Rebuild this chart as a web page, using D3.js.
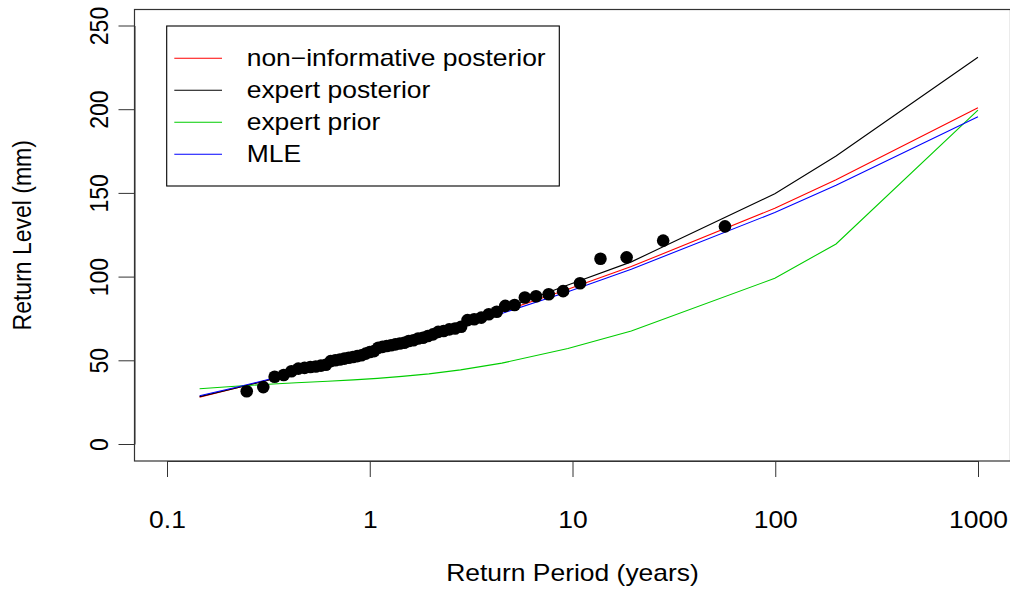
<!DOCTYPE html>
<html>
<head>
<meta charset="utf-8">
<script src="https://cdn.jsdelivr.net/npm/d3@7"></script>
<style>
  html, body { margin: 0; padding: 0; background: #ffffff; }
  svg { display: block; }
  text { font-family: "Liberation Sans", Arial, Helvetica, sans-serif; fill: #000; }
</style>
</head>
<body>
<svg id="chart" width="1010" height="591"></svg>
<script>
// Return periods (years) at which the fitted return-level curves are evaluated
const curvePeriods = [0.1448, 0.2171, 0.3338, 0.4343, 0.6213, 0.8306, 1.0913, 1.4427,
                      1.9576, 2.8037, 4.4814, 9.4912, 19.496, 99.499, 199.5, 999.5];

// Return levels (mm) for each fit
const nonInformativePosterior = [28.0, 33.3, 39.0, 42.6, 47.8, 52.0, 56.0, 60.3,
                                 65.0, 71.0, 79.0, 92.5, 106.0, 140.8, 157.8, 200.8];
const expertPosterior = [28.3, 33.3, 38.8, 42.4, 47.4, 51.8, 56.0, 60.4,
                         65.4, 71.6, 80.2, 95.0, 108.8, 149.5, 172.0, 231.0];
const expertPrior = [33.0, 34.5, 35.8, 36.6, 37.5, 38.3, 39.2, 40.4,
                     41.9, 44.3, 48.3, 57.0, 67.5, 99.0, 119.5, 199.5];
const mle = [28.8, 33.7, 39.3, 42.8, 47.7, 51.8, 55.8, 59.9,
             64.6, 70.3, 78.0, 91.0, 104.4, 138.3, 154.6, 195.5];

// Observed annual maxima: empirical return period (years) and level (mm)
const obsPeriods = [0.2473, 0.2985, 0.3396, 0.3764, 0.4109, 0.4442, 0.4769, 0.5093,
                    0.5418, 0.5746, 0.6078, 0.6418, 0.6765, 0.7122, 0.7491, 0.7871,
                    0.8266, 0.8675, 0.9102, 0.9548, 1.0015, 1.0504, 1.1020, 1.1560,
                    1.2130, 1.2740, 1.3380, 1.4070, 1.4800, 1.5580, 1.6420, 1.7320,
                    1.8300, 1.9350, 2.0500, 2.1760, 2.3140, 2.4660, 2.6350, 2.8230,
                    3.0350, 3.2740, 3.5470, 3.8630, 4.2300, 4.6600, 5.1800, 5.8200,
                    6.6100, 7.6300, 8.9900, 10.890, 13.740, 18.490, 28.000, 56.500];
const obsLevels = [31.5, 34.0, 40.2, 41.2, 43.5, 45.0, 45.5, 46.0,
                   46.3, 46.8, 47.3, 49.5, 50.0, 50.5, 51.0, 51.5,
                   52.0, 52.5, 53.0, 54.0, 55.0, 55.5, 57.5, 58.0,
                   58.5, 59.0, 59.5, 60.0, 60.5, 61.5, 62.0, 63.0,
                   63.5, 64.5, 65.5, 67.0, 67.5, 68.5, 69.0, 70.0,
                   74.0, 74.5, 75.5, 77.5, 79.0, 82.5, 83.0, 87.5,
                   88.3, 89.5, 91.3, 96.0, 110.7, 111.5, 121.5, 130.0];

const xTicks = [0.1, 1, 10, 100, 1000];
const xTickLabels = ["0.1", "1", "10", "100", "1000"];
const yTicks = [0, 50, 100, 150, 200, 250];

const seriesNames = ["non\u2212informative posterior", "expert posterior", "expert prior", "MLE"];
const seriesColors = ["#FF0000", "#000000", "#00CD00", "#0000FF"];
const seriesValues = [nonInformativePosterior, expertPosterior, expertPrior, mle];

// Plot region
const box = { left: 134.5, right: 1010.5, top: 9.5, bottom: 461 };
const fontSize = 23;
const stretch = 1.15;   // horizontal glyph stretch

const svg = d3.select("#chart");

const x = d3.scaleLog().domain([0.1, 1000]).range([167, 978]);
const y = d3.scaleLinear().domain([0, 250]).range([444, 25.5]);

// Curves
const line = d3.line()
  .x(d => x(d[0]))
  .y(d => y(d[1]));

seriesValues.forEach((vals, k) => {
  svg.append("path")
    .datum(curvePeriods.map((p, i) => [p, vals[i]]))
    .attr("d", line)
    .attr("fill", "none")
    .attr("stroke", seriesColors[k])
    .attr("stroke-width", 1.1);
});

// Observations
svg.append("g")
  .selectAll("circle")
  .data(obsPeriods.map((p, i) => [p, obsLevels[i]]))
  .join("circle")
  .attr("cx", d => x(d[0]))
  .attr("cy", d => y(d[1]))
  .attr("r", 6.3)
  .attr("fill", "#000");

// Frame
svg.append("rect")
  .attr("x", box.left).attr("y", box.top)
  .attr("width", box.right - box.left).attr("height", box.bottom - box.top)
  .attr("fill", "none").attr("stroke", "#333").attr("stroke-width", 1.2);

// Bottom axis
const xAxis = d3.axisBottom(x)
  .tickValues(xTicks)
  .tickFormat((d, i) => xTickLabels[i])
  .tickSize(16)
  .tickSizeOuter(0);
const gx = svg.append("g").attr("transform", `translate(0,${box.bottom})`).call(xAxis);
gx.select(".domain").attr("stroke", "#333");
gx.selectAll(".tick line").attr("stroke", "#333");
gx.selectAll(".tick text").remove();
gx.selectAll(".tick").append("text")
  .attr("text-anchor", "middle")
  .attr("font-size", fontSize)
  .attr("transform", `translate(0,${528 - box.bottom}) scale(${stretch},1)`)
  .text((d, i) => xTickLabels[i]);

// Left axis
const yAxis = d3.axisLeft(y)
  .tickValues(yTicks)
  .tickSize(16)
  .tickSizeOuter(0);
const gy = svg.append("g").attr("transform", `translate(${box.left},0)`).call(yAxis);
gy.select(".domain").attr("stroke", "#333");
gy.selectAll(".tick line").attr("stroke", "#333");
gy.selectAll(".tick text").remove();
gy.selectAll(".tick").append("text")
  .attr("text-anchor", "middle")
  .attr("font-size", fontSize)
  .attr("transform", `translate(${108 - box.left},0) scale(${stretch},1) rotate(-90)`)
  .text(d => d);

// Axis titles
svg.append("text")
  .attr("text-anchor", "middle")
  .attr("font-size", fontSize)
  .attr("transform", `translate(${(box.left + box.right) / 2},581) scale(${stretch},1)`)
  .text("Return Period (years)");

svg.append("text")
  .attr("text-anchor", "middle")
  .attr("font-size", fontSize)
  .attr("transform", `translate(31,${(box.top + box.bottom) / 2}) scale(${stretch},1) rotate(-90)`)
  .text("Return Level (mm)");

// Legend
const legend = { x0: 166.7, y0: 26, x1: 559.3, y1: 186 };
svg.append("rect")
  .attr("x", legend.x0).attr("y", legend.y0)
  .attr("width", legend.x1 - legend.x0).attr("height", legend.y1 - legend.y0)
  .attr("fill", "#fff").attr("stroke", "#000").attr("stroke-width", 1.1);

const legendRows = svg.append("g")
  .selectAll("g")
  .data(seriesNames)
  .join("g")
  .attr("transform", (d, i) => `translate(0,${58.3 + i * 32})`);

legendRows.append("line")
  .attr("x1", 174.3).attr("x2", 222)
  .attr("stroke", (d, i) => seriesColors[i])
  .attr("stroke-width", 1.1);

legendRows.append("text")
  .attr("font-size", fontSize)
  .attr("transform", `translate(246.7,8) scale(${stretch},1)`)
  .text(d => d);
</script>
</body>
</html>
